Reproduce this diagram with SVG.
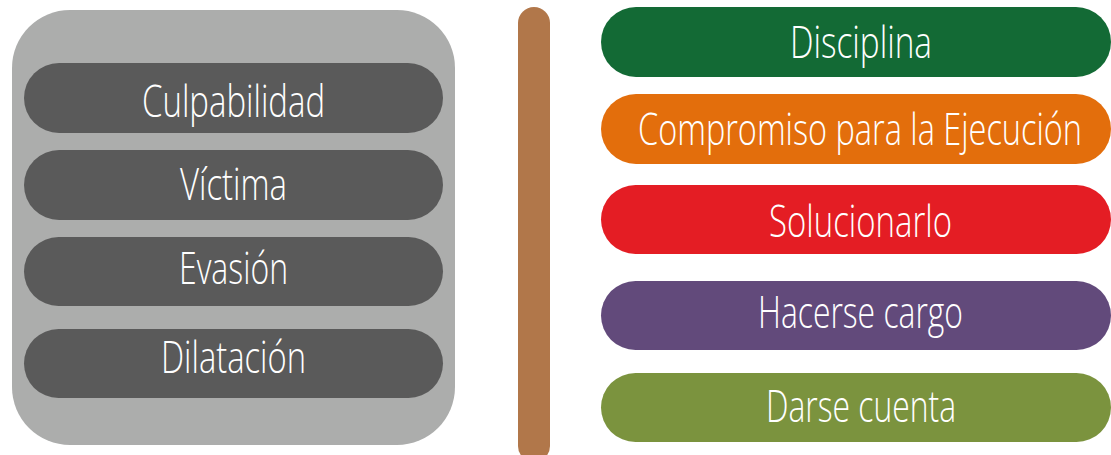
<svg xmlns="http://www.w3.org/2000/svg" width="1111" height="455" viewBox="0 0 1111 455">
<style>
.lbl{font-family:"Open Sans","Liberation Sans",sans-serif;font-size:44px;font-weight:350;fill:#ffffff;text-anchor:middle}
.dark{fill:#5a5a5a}
</style>
<rect width="1111" height="455" fill="#ffffff"/>
<g id="panel-left">
<rect x="12" y="10" width="443" height="435" rx="58" ry="58" fill="#acadac"/>
</g>
<g id="node-culpabilidad"><rect class="dark" x="24" y="63" width="419" height="70" rx="35"/><text class="lbl" x="233.5" y="117" textLength="183" lengthAdjust="spacingAndGlyphs">Culpabilidad</text></g>
<g id="node-victima"><rect class="dark" x="24" y="150" width="419" height="70" rx="35"/><text class="lbl" x="233.5" y="200" textLength="107" lengthAdjust="spacingAndGlyphs">Víctima</text></g>
<g id="node-evasion"><rect class="dark" x="24" y="237" width="419" height="69" rx="34.5"/><text class="lbl" x="233.5" y="284" textLength="109" lengthAdjust="spacingAndGlyphs">Evasión</text></g>
<g id="node-dilatacion"><rect class="dark" x="24" y="329" width="419" height="69" rx="34.5"/><text class="lbl" x="233.5" y="373" textLength="145" lengthAdjust="spacingAndGlyphs">Dilatación</text></g>
<g id="divider"><rect x="518" y="7" width="32" height="455" rx="16" fill="#b1774a"/></g>
<g id="node-disciplina"><rect x="601" y="7" width="510" height="70" rx="35" fill="#136a35"/><text class="lbl" x="861" y="58" textLength="142" lengthAdjust="spacingAndGlyphs">Disciplina</text></g>
<g id="node-compromiso"><rect x="601" y="94" width="510" height="70" rx="35" fill="#e36e0c"/><text class="lbl" x="860" y="145" textLength="444" lengthAdjust="spacingAndGlyphs">Compromiso para la Ejecución</text></g>
<g id="node-solucionarlo"><rect x="601" y="185" width="510" height="69" rx="34.5" fill="#e41d24"/><text class="lbl" x="860.5" y="237" textLength="183" lengthAdjust="spacingAndGlyphs">Solucionarlo</text></g>
<g id="node-hacerse"><rect x="601" y="281" width="510" height="69" rx="34.5" fill="#624a7b"/><text class="lbl" x="860.5" y="328" textLength="205" lengthAdjust="spacingAndGlyphs">Hacerse cargo</text></g>
<g id="node-darse"><rect x="601" y="373" width="510" height="69" rx="34.5" fill="#7b933e"/><text class="lbl" x="861" y="422" textLength="190" lengthAdjust="spacingAndGlyphs">Darse cuenta</text></g>
<g id="connectors"></g>
</svg>
